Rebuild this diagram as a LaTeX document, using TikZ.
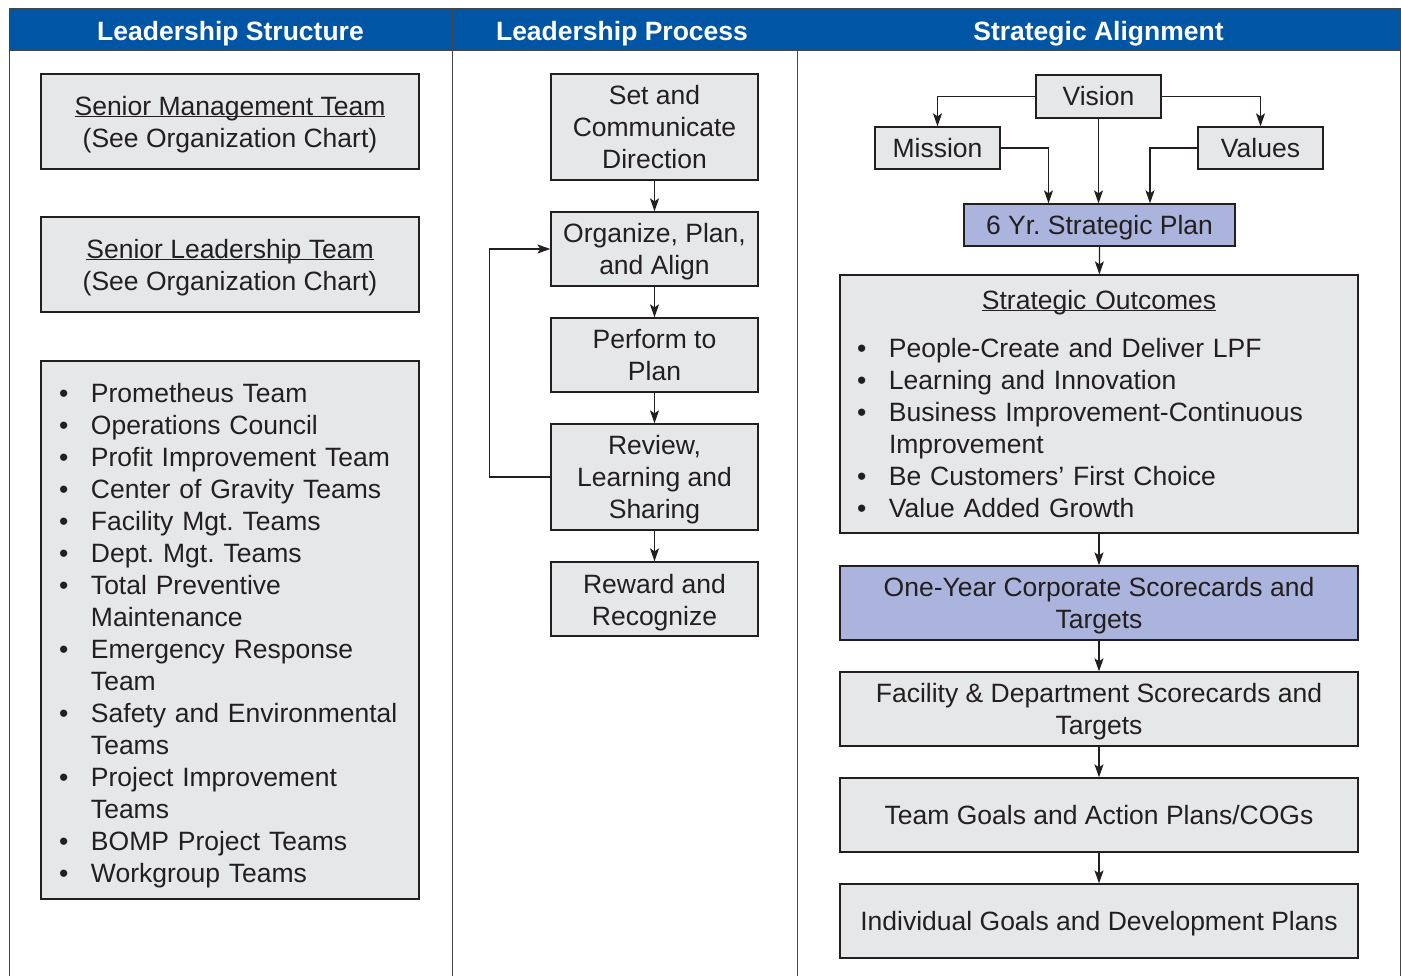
\documentclass[tikz,border=0pt]{standalone}
\usepackage{fontspec}
\setmainfont{Liberation Sans}
\usepackage{xcolor}
\usepackage{tikz}
\usetikzlibrary{positioning, arrows.meta}

\definecolor{headblue}{RGB}{0,85,165}
\definecolor{boxgray}{RGB}{230,231,232}
\definecolor{planblue}{RGB}{170,180,220}
\definecolor{inkgray}{RGB}{35,31,32}
\definecolor{framegray}{RGB}{70,70,70}

\newcommand{\bul}{\makebox[32pt][l]{\textbullet}}
\newcommand{\bulcont}{\hspace*{32pt}}
\newcommand{\undl}[1]{\underline{\smash{#1}}\vphantom{Sg}}
\newcommand{\topstrut}{\rule{0pt}{25pt}}
\frenchspacing

\begin{document}
\begin{tikzpicture}[x=1pt, y=-1pt,
    font=\fontsize{26.5}{32}\selectfont, text=inkgray,
    box/.style={draw=inkgray, line width=1.3pt, fill=boxgray, inner sep=0pt, align=center},
    hilite/.style={box, fill=planblue},
    arr/.style={draw=inkgray, line width=1.2pt, -{Stealth[length=13pt, width=9pt, inset=3pt]}},
    head/.style={text=white, font=\fontsize{26.5}{32}\selectfont\bfseries}]
            \useasboundingbox (0,0) rectangle (1401,976);

            % frame and header band
            \fill[headblue] (9,9) rectangle (1400,51);
            \draw[framegray, line width=1pt] (9,976) -- (9,9) -- (1400,9) -- (1400,976);
            \draw[framegray, line width=1pt] (9,51) -- (1400,51);
            \draw[framegray, line width=1pt] (452,9) -- (452,976);
            \draw[framegray, line width=1pt] (797,9) -- (797,976);
            \node[head] (h1) at (230.5,33.5) {Leadership Structure};
            \node[head] (h2) at (622,33.5) {Leadership Process};
            \node[head] (h3) at (1098.5,33.5) {Strategic Alignment};

            % leadership structure
            \node[box, minimum width=378, minimum height=95] (smt) at (230,121.5) {\topstrut\undl{Senior Management Team}\\(See Organization Chart)};
            \node[box, minimum width=378, minimum height=95] (slt) at (230,264.5) {\topstrut\undl{Senior Leadership Team}\\(See Organization Chart)};
            \node[box, minimum width=378, minimum height=538, text width=342, inner xsep=18, align=left] (teams) at (230,630) {%
                \rule{0pt}{31pt}\bul Prometheus Team\\
                \bul Operations Council\\
                \bul Profit Improvement Team\\
                \bul Center of Gravity Teams\\
                \bul Facility Mgt. Teams\\
                \bul Dept. Mgt. Teams\\
                \bul Total Preventive\\
                \bulcont Maintenance\\
                \bul Emergency Response\\
                \bulcont Team\\
                \bul Safety and Environmental\\
                \bulcont Teams\\
                \bul Project Improvement\\
                \bulcont Teams\\
                \bul BOMP Project Teams\\
                \bul Workgroup Teams};

            % leadership process
            \node[box, minimum width=207, minimum height=106] (direct) at (654.5,127) {Set and\\Communicate\\Direction};
            \node[box, minimum width=207, minimum height=74] (organize) at (654.5,249) {\topstrut Organize, Plan,\\and Align};
            \node[box, minimum width=207, minimum height=74] (perform) at (654.5,355) {Perform to\\Plan};
            \node[box, minimum width=207, minimum height=106] (review) at (654.5,477) {\topstrut Review,\\Learning and\\Sharing};
            \node[box, minimum width=207, minimum height=74] (reward) at (654.5,599) {\rule{0pt}{26pt}Reward and\\Recognize};

            \draw[arr] (direct) -- (organize);
            \draw[arr] (organize) -- (perform);
            \draw[arr] (perform) -- (review);
            \draw[arr] (review) -- (reward);
            \draw[arr] (review.west) -- ++(-61,0) |- (organize.west);

            % strategic alignment
            \node[box, minimum width=125, minimum height=43] (vision) at (1098.5,96.5) {Vision};
            \node[box, minimum width=125, minimum height=42] (mission) at (937.5,148) {Mission};
            \node[box, minimum width=125, minimum height=42] (values) at (1260.5,148) {Values};
            \node[hilite, minimum width=271, minimum height=42] (plan) at (1099.5,225) {\topstrut 6 Yr. Strategic Plan};
            \node[box, minimum width=518, minimum height=258, text width=484, inner xsep=17, align=left] (outcomes) at (1099,404) {%
                \makebox[484pt]{\undl{Strategic Outcomes}}\\[16pt]
                \bul People-Create and Deliver LPF\\
                \bul Learning and Innovation\\
                \bul Business Improvement-Continuous\\
                \bulcont Improvement\\
                \bul Be Customers’ First Choice\\
                \bul Value Added Growth};
            \node[hilite, minimum width=518, minimum height=74] (oneyear) at (1099,603) {\topstrut One-Year Corporate Scorecards and\\Targets};
            \node[box, minimum width=518, minimum height=74] (facility) at (1099,709) {\topstrut Facility \& Department Scorecards and\\Targets};
            \node[box, minimum width=518, minimum height=74] (teamgoals) at (1099,815) {Team Goals and Action Plans/COGs};
            \node[box, minimum width=518, minimum height=74] (individual) at (1099,921) {\topstrut Individual Goals and Development Plans};

            \draw[arr] (vision.west) -| (mission.north);
            \draw[arr] (vision.east) -| (values.north);
            \draw[arr] (vision.south) -- (vision.south |- plan.north);
            \draw[arr] (mission.east) -| ([xshift=-51pt]plan.north);
            \draw[arr] (values.west) -| ([xshift=50.5pt]plan.north);
            \draw[arr] (plan) -- (outcomes);
            \draw[arr] (outcomes) -- (oneyear);
            \draw[arr] (oneyear) -- (facility);
            \draw[arr] (facility) -- (teamgoals);
            \draw[arr] (teamgoals) -- (individual);
        \end{tikzpicture}
\end{document}
